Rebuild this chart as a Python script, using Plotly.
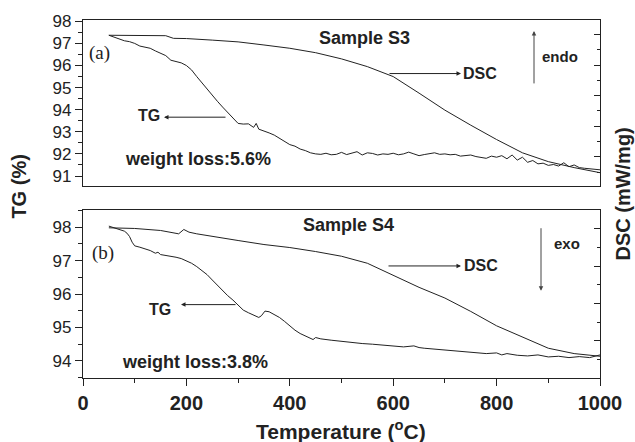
import plotly.graph_objects as go

# ---------------- data ----------------
s3_tg_T = [50, 60, 70, 80, 90, 100, 110, 120, 130, 140, 150, 160, 170, 180, 190, 200, 210, 220, 230, 240,
           250, 260, 270, 280, 290, 300, 310, 320, 330, 335, 340, 350, 360, 370, 380, 390, 400, 410, 420, 430,
           440, 450, 460, 470, 480, 490, 500, 510, 520, 530, 540, 550, 560, 570, 580, 590, 600, 610, 620, 630,
           640, 650, 660, 670, 680, 690, 700, 710, 720, 730, 740, 750, 760, 770, 780, 790, 800, 810, 820, 830,
           840, 850, 860, 870, 880, 890, 900, 910, 920, 930, 940, 950, 960, 970, 980, 990, 1000]
s3_tg = [97.37, 97.28, 97.22, 97.12, 97.08, 97.0, 96.88, 96.82, 96.78, 96.66, 96.55, 96.45, 96.24, 96.18, 96.12, 96.0, 95.8, 95.5, 95.22, 94.95,
         94.62, 94.38, 94.12, 93.88, 93.62, 93.38, 93.35, 93.36, 93.2, 93.38, 93.12, 93.05, 92.95, 92.85, 92.7, 92.55, 92.42, 92.35, 92.22, 92.15,
         92.05, 92.0, 91.98, 92.03, 91.96, 91.98, 92.07, 91.97, 92.02, 92.1, 91.95, 92.05, 92.02, 91.95, 92.0, 91.98, 92.03, 91.96, 92.0, 92.08,
         92.0, 91.92, 91.97, 92.0, 92.05, 91.98, 92.0, 91.96, 91.98, 91.9, 91.92, 91.95, 91.88, 91.85, 91.8, 91.9, 91.85, 91.92, 91.78, 91.95,
         91.72, 91.85, 91.62, 91.7, 91.55, 91.58, 91.48, 91.52, 91.45, 91.6, 91.42, 91.5, 91.38, 91.35, 91.32, 91.3, 91.28]

s3_dsc_T = [50, 100, 150, 160, 175, 200, 250, 300, 350, 400, 450, 500, 550, 600, 650, 700, 750, 800, 850, 900, 950, 1000]
s3_dsc = [97.37, 97.37, 97.37, 97.35, 97.23, 97.22, 97.15, 97.07, 96.93, 96.78, 96.58, 96.3, 95.95, 95.5, 94.75, 93.98, 93.3, 92.65, 92.05, 91.65, 91.38, 91.15]

s4_tg_T = [50, 60, 70, 80, 85, 90, 95, 100, 110, 120, 130, 140, 145, 150, 160, 170, 180, 190, 200, 210,
           220, 230, 240, 250, 260, 270, 280, 290, 300, 310, 320, 330, 340, 345, 352, 360, 370, 380, 390, 400,
           410, 420, 430, 440, 445, 450, 460, 480, 500, 520, 540, 560, 580, 600, 620, 640, 650, 660, 680, 700,
           720, 740, 760, 780, 800, 810, 820, 840, 860, 880, 900, 920, 940, 960, 980, 1000]
s4_tg = [98.03, 97.98, 97.95, 97.88, 97.82, 97.72, 97.55, 97.44, 97.4, 97.36, 97.3, 97.22, 97.25, 97.18, 97.16, 97.12, 97.1, 97.06, 97.0, 96.92,
         96.82, 96.7, 96.58, 96.42, 96.26, 96.1, 95.95, 95.82, 95.68, 95.52, 95.44, 95.36, 95.3, 95.35, 95.49, 95.47, 95.38, 95.3, 95.18, 95.05,
         94.92, 94.82, 94.74, 94.68, 94.64, 94.7, 94.66, 94.62, 94.58, 94.56, 94.52, 94.5, 94.48, 94.46, 94.42, 94.45, 94.4, 94.38, 94.35, 94.32,
         94.3, 94.27, 94.25, 94.22, 94.24, 94.18, 94.22, 94.17, 94.15, 94.18, 94.12, 94.14, 94.1, 94.13, 94.1, 94.18]

s4_dsc_T = [50, 100, 150, 175, 185, 195, 205, 220, 250, 300, 350, 400, 450, 500, 550, 600, 650, 700, 750, 800, 850, 900, 950, 1000]
s4_dsc = [97.98, 97.96, 97.9, 97.84, 97.8, 97.93, 97.85, 97.8, 97.72, 97.6, 97.48, 97.39, 97.27, 97.13, 96.92, 96.56, 96.2, 95.88, 95.48, 95.05, 94.72, 94.38, 94.22, 94.14]

# ---------------- layout helpers ----------------
W, H = 635, 442
L, R, T, B = 83, 600, 17, 378


def px(xp):
    return (xp - L) / (R - L)


def py(yp):
    return (B - yp) / (B - T)


FONT = "Liberation Sans, Arial, sans-serif"
INK = "#222222"
LINE = dict(color="#222222", width=1)

fig = go.Figure()
fig.add_trace(go.Scatter(x=s3_tg_T, y=s3_tg, mode="lines", line=LINE, xaxis="x2", yaxis="y2", showlegend=False))
fig.add_trace(go.Scatter(x=s3_dsc_T, y=s3_dsc, mode="lines", line=LINE, xaxis="x2", yaxis="y2", showlegend=False))
fig.add_trace(go.Scatter(x=s4_tg_T, y=s4_tg, mode="lines", line=LINE, xaxis="x", yaxis="y", showlegend=False))
fig.add_trace(go.Scatter(x=s4_dsc_T, y=s4_dsc, mode="lines", line=LINE, xaxis="x", yaxis="y", showlegend=False))
# dummy traces to activate right axes
fig.add_trace(go.Scatter(x=[None], y=[None], xaxis="x2", yaxis="y4", showlegend=False))
fig.add_trace(go.Scatter(x=[None], y=[None], xaxis="x", yaxis="y3", showlegend=False))

top_lo = py(184)
bot_hi = py(209)

axis_common = dict(showline=True, linecolor="#222222", linewidth=1.3, showgrid=False, zeroline=False)

fig.update_layout(
    width=W, height=H,
    margin=dict(l=L, r=W - R, t=T, b=H - B),
    paper_bgcolor="white", plot_bgcolor="white",
    font=dict(family=FONT, color=INK),
    xaxis=dict(domain=[0, 1], anchor="y", range=[0, 1000], dtick=200, tick0=0,
               ticks="outside", ticklen=7, tickcolor="#222222", mirror=True,
               minor=dict(dtick=100, ticks="outside", ticklen=4, tickcolor="#222222"),
               tickfont=dict(size=20, family=FONT, color=INK, weight="bold"), **axis_common),
    xaxis2=dict(domain=[0, 1], anchor="y2", range=[0, 1000], showticklabels=False, ticks="",
                mirror=True, **axis_common),
    yaxis=dict(domain=[0, bot_hi], anchor="x", range=[93.49, 98.5], dtick=1, tick0=0,
               ticks="outside", ticklen=7, tickcolor="#222222", mirror=True,
               minor=dict(dtick=0.5, ticks="outside", ticklen=4, tickcolor="#222222"),
               tickfont=dict(size=17, family=FONT, color=INK), **axis_common),
    yaxis2=dict(domain=[top_lo, 1], anchor="x2", range=[90.565, 98.06], dtick=1, tick0=0,
                ticks="outside", ticklen=7, tickcolor="#222222", mirror=True,
                minor=dict(dtick=0.5, ticks="outside", ticklen=4, tickcolor="#222222"),
                tickfont=dict(size=17, family=FONT, color=INK), **axis_common),
    yaxis3=dict(overlaying="y", side="right", anchor="x", range=[-1.98, 6.98], dtick=2, tick0=0,
                ticks="inside", ticklen=6, tickcolor="#222222", showticklabels=False,
                minor=dict(dtick=1, ticks="inside", ticklen=3, tickcolor="#222222"),
                showgrid=False, zeroline=False, showline=False),
    yaxis4=dict(overlaying="y2", side="right", anchor="x2", range=[-1.89, 8.95], dtick=2, tick0=0,
                ticks="inside", ticklen=6, tickcolor="#222222", showticklabels=False,
                minor=dict(dtick=1, ticks="inside", ticklen=3, tickcolor="#222222"),
                showgrid=False, zeroline=False, showline=False),
)

ann = []


def text(s, xp, yp, size, bold=True, family=FONT, angle=0, xanchor="center"):
    ann.append(dict(text=s, x=px(xp), y=py(yp), xref="paper", yref="paper", showarrow=False,
                    xanchor=xanchor, yanchor="middle", textangle=angle,
                    font=dict(size=size, family=family, color=INK, weight="bold" if bold else "normal")))


def arrow(x_head, y_head, x_tail, y_tail, color="#222222"):
    ann.append(dict(text="", x=px(x_head), y=py(y_head), xref="paper", yref="paper",
                    ax=x_tail - x_head, ay=y_tail - y_head, axref="pixel", ayref="pixel",
                    showarrow=True, arrowhead=2, arrowsize=0.9, arrowwidth=1, arrowcolor=color))


# top panel
text("(a)", 99, 50, 19, bold=False, family="Liberation Serif, Times New Roman, serif")
text("Sample S3", 364, 35, 18)
text("TG", 149, 113, 16)
arrow(164, 115, 227, 115)
text("weight loss:5.6%", 123, 157, 18, xanchor="left")
text("DSC", 480, 71, 16)
arrow(461, 71, 388, 71)
arrow(534, 28, 534, 82, color="#444444")
text("endo", 560, 54, 15)

# bottom panel
text("(b)", 103, 252, 19, bold=False, family="Liberation Serif, Times New Roman, serif")
text("Sample S4", 348, 224, 18)
text("TG", 160, 309, 16)
arrow(181, 304, 237, 304)
text("weight loss:3.8%", 120, 362, 18, xanchor="left")
text("DSC", 481, 265, 16)
arrow(461, 265, 387, 265)
arrow(541, 290, 541, 226, color="#444444")
text("exo", 567, 242, 15)

# axis titles
text("TG (%)", 19, 185, 20, angle=-90)
text("DSC (mW/mg)", 623, 193, 20, angle=-90)
text("Temperature (<sup>o</sup>C)", 341, 430, 21)

fig.update_layout(annotations=ann)

fig.write_html("out.html")
